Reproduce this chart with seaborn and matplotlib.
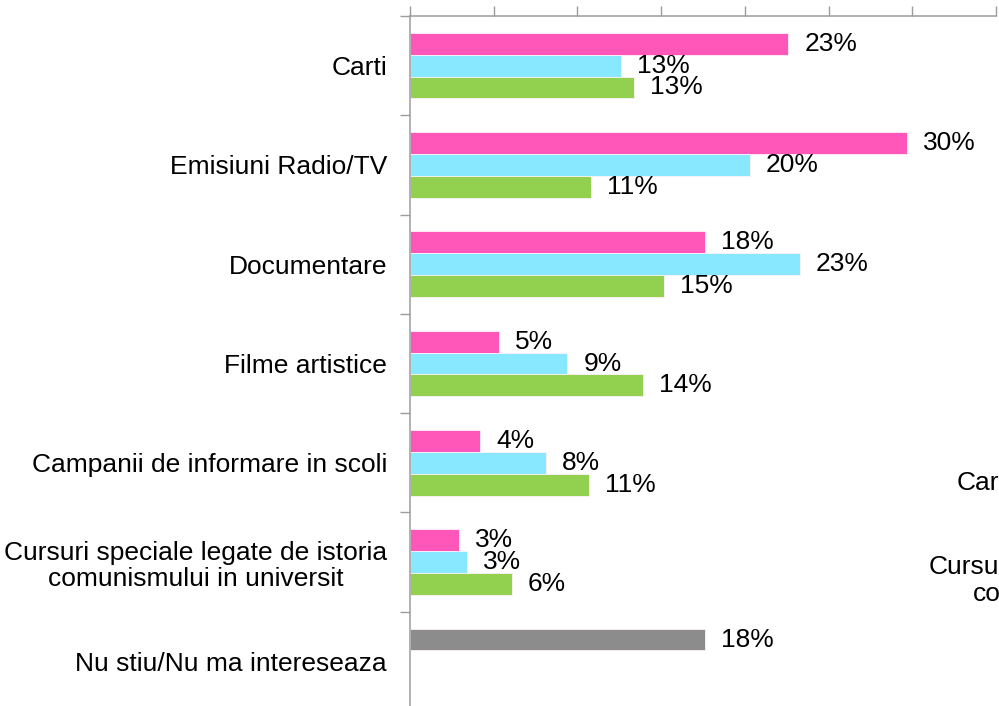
import pandas as pd
import seaborn as sns
import matplotlib.pyplot as plt

# data (percent)
categories = ["Carti", "Emisiuni Radio/TV", "Documentare", "Filme artistice",
              "Campanii de informare in scoli",
              "Cursuri speciale legate de istoria\ncomunismului in universit",
              "Nu stiu/Nu ma intereseaza"]
series_names = ["s1", "s2", "s3"]
s1 = [22.6, 29.7, 17.6, 5.3, 4.2, 2.9, 17.6]
s2 = [12.6, 20.3, 23.3, 9.4, 8.1, 3.4, None]
s3 = [13.4, 10.8, 15.2, 13.9, 10.7, 6.1, None]
x_ticks = [0, 5, 10, 15, 20, 25, 30, 35]

# visible pieces of the neighbouring chart's labels, cut by the right edge
right_texts = ["Car", "Cursu", "co"]

colors = ["#FF57B9", "#87E8FF", "#92D050"]
gray = "#8C8C8C"
axis_col = "#9C9C9C"

rows = []
for name, vals in zip(series_names, [s1, s2, s3]):
    for cat, v in zip(categories, vals):
        if v is not None:
            rows.append({"cat": cat, "series": name, "val": v})
df = pd.DataFrame(rows)

sns.set_style("white")
plt.rcParams["font.family"] = ["Liberation Sans", "DejaVu Sans"]
plt.rcParams["font.size"] = 19
plt.rcParams["text.color"] = "black"
plt.rcParams["ytick.labelcolor"] = "black"

fig = plt.figure(figsize=(9.99, 7.06), dpi=100)
ax = fig.add_axes([410 / 999, -5 / 706, 586 / 999, 695 / 706])

sns.barplot(data=df, y="cat", x="val", hue="series", order=categories,
            hue_order=series_names, palette=colors, saturation=1, orient="h",
            width=0.66, edgecolor="#FFF0F8", linewidth=0.6, legend=False, ax=ax)

# the "Nu stiu" bar is gray
for p in ax.patches:
    if p.get_y() + p.get_height() / 2 > 5.5:
        p.set_facecolor(gray)

for cont in ax.containers:
    ax.bar_label(cont, fmt="{:.0f}%", padding=11.5, fontsize=19, color="black")

ax.set_xlim(0, 35)
ax.set_ylim(6.5, -0.5)
ax.set_xlabel("")
ax.set_ylabel("")

ax.xaxis.tick_top()
ax.set_xticks(x_ticks)
ax.tick_params(axis="x", which="major", length=7, width=1, color=axis_col,
               labeltop=False, labelbottom=False, direction="out")
ax.set_yticks(range(len(categories)))
ax.set_yticks([i - 0.5 for i in range(len(categories) + 1)], minor=True)
ax.tick_params(axis="y", which="major", length=0, pad=16.5, labelsize=19,
               labelcolor="black")
ax.tick_params(axis="y", which="minor", length=7, width=1, color=axis_col,
               direction="out", left=True)
for lbl in ax.get_yticklabels():
    lbl.set_multialignment("center")
    lbl.set_linespacing(1.15)

for s in ["right", "bottom"]:
    ax.spines[s].set_visible(False)
for s in ["top", "left"]:
    ax.spines[s].set_color(axis_col)
    ax.spines[s].set_linewidth(1.1)

fig.text(957 / 999, 1 - 483 / 706, right_texts[0], ha="left", va="center", fontsize=19)
fig.text(929 / 999, 1 - 567 / 706, right_texts[1], ha="left", va="center", fontsize=19)
fig.text(973 / 999, 1 - 594 / 706, right_texts[2], ha="left", va="center", fontsize=19)

fig.savefig("out.png", dpi=100)
